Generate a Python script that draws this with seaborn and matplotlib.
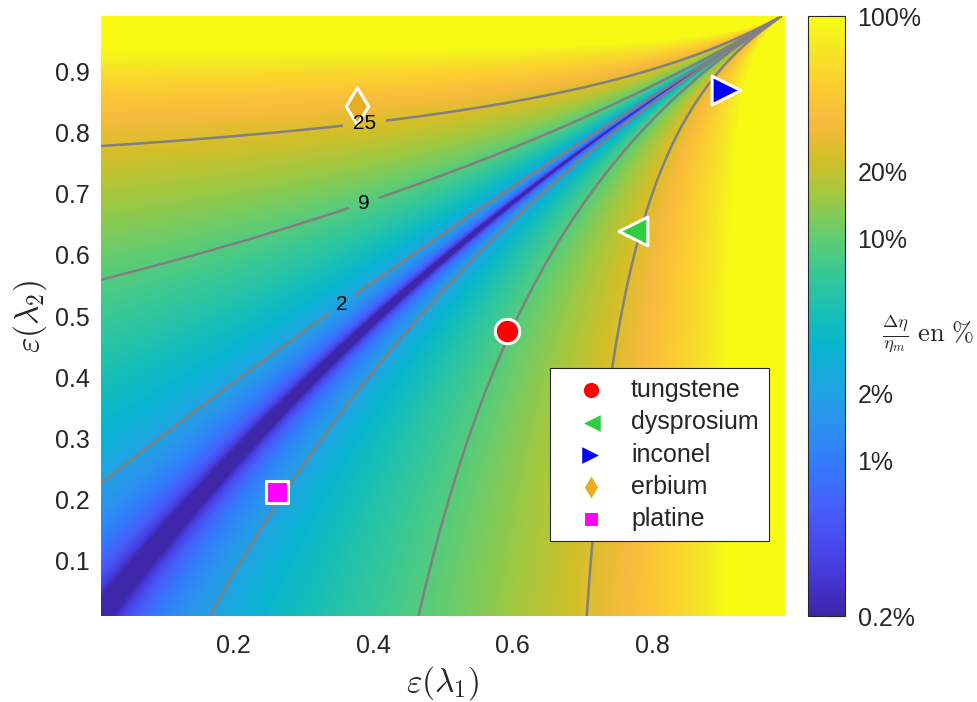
import numpy as np
import matplotlib
matplotlib.use("Agg")
import matplotlib.pyplot as plt
from matplotlib.colors import LogNorm, LinearSegmentedColormap
from matplotlib.ticker import FixedLocator, NullFormatter
import seaborn as sns

sns.set_style("white")
plt.rcParams['font.family'] = ['Liberation Sans', 'DejaVu Sans']
plt.rcParams['mathtext.fontset'] = 'cm'

# contour levels (%) and where each line meets the left / bottom edge
levels_pct = [2, 9, 25]
left_edge_eps2 = [0.218, 0.559, 0.775]
bottom_edge_eps1 = [0.162, 0.461, 0.705]
label_pos = [(0.355, 0.518), (0.388, 0.678), (0.388, 0.809)]

# materials
materials = ['tungstene', 'dysprosium', 'inconel', 'erbium', 'platine']
eps1 = [0.592, 0.772, 0.905, 0.377, 0.262]
eps2 = [0.475, 0.639, 0.869, 0.843, 0.212]
colors = ['#ff0000', '#2ecc40', '#0000ff', '#e8ad22', '#ff00ff']
markers = ['o', '<', '>', 'd', 's']
sizes = [310, 430, 430, 360, 230]

cbar_ticks = [0.2, 1, 2, 10, 20, 100]
cbar_labels = ['0.2%', '1%', '2%', '10%', '20%', '100%']

# parula (MATLAB) anchors
parula = [(0.2422, 0.1504, 0.6603), (0.2706, 0.2147, 0.8364), (0.2813, 0.3006, 0.9414),
          (0.2699, 0.3892, 0.9906), (0.1963, 0.4847, 0.9892), (0.1687, 0.5703, 0.9359),
          (0.1248, 0.6459, 0.8883), (0.0297, 0.7082, 0.8163), (0.0964, 0.7500, 0.7120),
          (0.2161, 0.7843, 0.5923), (0.3909, 0.8029, 0.4354), (0.6174, 0.7876, 0.2612),
          (0.8203, 0.7498, 0.1535), (0.9728, 0.7298, 0.2394), (0.9892, 0.8136, 0.1885),
          (0.9597, 0.9135, 0.1423), (0.9769, 0.9839, 0.0805)]
pos = [i * 4 / 63 for i in range(16)] + [1.0]
cmap = LinearSegmentedColormap.from_list('parula', list(zip(pos, parula)), N=256)

# field model fitted to the edge crossings of the contour lines
k2 = np.mean([l / (e / (1 - e)) for l, e in zip(levels_pct, left_edge_eps2)])
k1 = np.mean([l / (e / (1 - e)) for l, e in zip(levels_pct, bottom_edge_eps1)])
g = np.linspace(0.01, 0.99, 600)
X, Y = np.meshgrid(g, g)
F = np.abs(k1 * X / (1 - X) - k2 * Y / (1 - Y))
F = np.clip(F, 0.2, 100)

fig = plt.figure(figsize=(9.77, 7.02), dpi=100)
ax = fig.add_axes([0.1034, 0.1225, 0.7001, 0.8547])
cax = fig.add_axes([0.827, 0.1225, 0.038, 0.8547])

norm = LogNorm(vmin=0.2, vmax=100)
im = ax.imshow(F, extent=(0.01, 0.99, 0.01, 0.99), origin='lower', aspect='auto',
               cmap=cmap, norm=norm, interpolation='bilinear')
cs = ax.contour(X, Y, F, levels=levels_pct, colors=[(0.5, 0.5, 0.5)], linewidths=1.8)
labs = ax.clabel(cs, fmt='%d', manual=label_pos, inline=True, inline_spacing=10,
                 fontsize=15, colors='k')
for t in labs:
    t.set_rotation(0)
    t.set_zorder(6)

for name, x, y, c, m, s in zip(materials, eps1, eps2, colors, markers, sizes):
    sns.scatterplot(x=[x], y=[y], marker=m, color=c, s=s, edgecolor='white',
                    linewidth=2.2, label=name, ax=ax, zorder=5)

ax.set_xlim(0.01, 0.99)
ax.set_ylim(0.01, 0.99)
ax.set_xticks([0.2, 0.4, 0.6, 0.8])
ax.set_yticks([0.1, 0.2, 0.3, 0.4, 0.5, 0.6, 0.7, 0.8, 0.9])
ax.tick_params(length=0, labelsize=18, labelcolor='0.15')
ax.tick_params(axis='x', pad=13)
ax.tick_params(axis='y', pad=8)
for sp in ax.spines.values():
    sp.set_visible(False)
ax.set_xlabel(r'$\varepsilon(\lambda_1)$', fontsize=24, color='0.15', labelpad=4)
ax.set_ylabel(r'$\varepsilon(\lambda_2)$', fontsize=24, color='0.15', labelpad=4)

leg = ax.legend(loc='lower left', bbox_to_anchor=(0.656, 0.125), frameon=True,
                fancybox=False, fontsize=18, borderpad=0.4, labelspacing=0.33,
                handlelength=2.5, handletextpad=0.35, markerscale=0.75, borderaxespad=0)
leg.get_frame().set_edgecolor('0.15')
leg.get_frame().set_linewidth(0.8)
leg.get_frame().set_alpha(1)

cb = fig.colorbar(im, cax=cax)
cb.outline.set_edgecolor('0.15')
cb.outline.set_linewidth(0.8)
cax.yaxis.set_major_locator(FixedLocator(cbar_ticks))
cax.set_yticklabels(cbar_labels)
minor = [v * d for d in (0.1, 1, 10) for v in range(2, 10)]
minor = [m for m in minor if 0.2 < m < 100 and m not in cbar_ticks]
cax.yaxis.set_minor_locator(FixedLocator(minor))
cax.yaxis.set_minor_formatter(NullFormatter())
cax.tick_params(which='major', direction='in', length=13, width=0.8, color='0.15',
                labelsize=18, labelcolor='0.15', pad=9)
cax.tick_params(which='minor', direction='in', length=7, width=0.8, color='0.15')
fig.text(0.903, 0.524, r'$\frac{\Delta\eta}{\eta_m}\ \mathrm{en}\ \%$', fontsize=19,
         color='0.15', ha='left', va='center')

fig.savefig('out.png', dpi=100)
